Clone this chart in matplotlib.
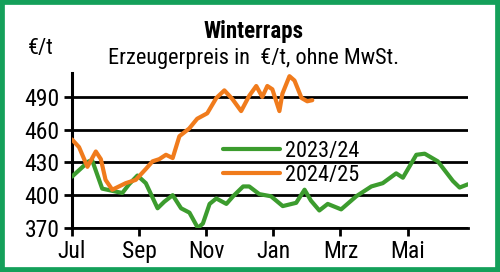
import matplotlib
matplotlib.use('Agg')
import matplotlib.pyplot as plt
from matplotlib.patches import Rectangle

plt.rcParams['font.family'] = ['Liberation Sans Narrow', 'Roboto Condensed',
                               'Liberation Sans', 'DejaVu Sans']

# Monate ab Juli (0 = Jul, 2 = Sep, ...)
month_labels = ['Jul', 'Sep', 'Nov', 'Jan', 'Mrz', 'Mai']
month_pos = [0, 2, 4, 6, 8, 10]

# 2023/24
x_2324 = [0, 0.5, 0.6, 0.9, 1.2, 1.5, 1.7, 1.95, 2.2, 2.55, 2.75, 3.0, 3.25, 3.5,
          3.75, 3.9, 4.1, 4.3, 4.6, 4.8, 5.1, 5.28, 5.58, 5.93, 6.28, 6.68, 6.93,
          7.12, 7.37, 7.62, 8.02, 8.47, 8.92, 9.26, 9.66, 9.86, 10.26, 10.51, 10.9,
          11.35, 11.55, 11.8]
y_2324 = [417, 431, 432, 406, 404, 402, 410, 418, 411, 388, 394, 400, 388, 384,
          370, 374, 392, 397, 392, 399, 408, 408, 401, 399, 390, 393, 405,
          395, 386, 392, 387, 399, 408, 411, 420, 416, 437, 438, 431,
          413, 407, 410]

# 2024/25
x_2425 = [0, 0.21, 0.46, 0.71, 0.86, 1.0, 1.2, 1.6, 1.9, 2.2, 2.4, 2.6, 2.8, 3.0,
          3.2, 3.49, 3.73, 4.03, 4.3, 4.54, 4.78, 5.04, 5.28, 5.49, 5.67, 5.82,
          5.97, 6.18, 6.27, 6.48, 6.63, 6.84, 7.01, 7.16]
y_2425 = [451, 444, 426, 440, 433, 414, 405, 411, 414, 424, 431, 433, 437, 434,
          454, 461, 470, 475, 489, 496, 488, 477, 491, 500, 490, 500,
          497, 477, 493, 509, 505, 489, 486, 487]

green = '#3c9c2e'
orange = '#f07b1c'

fig = plt.figure(figsize=(5, 2.72), dpi=100)
ax = fig.add_axes([0.144, 0.162, 0.792, 0.57])

ax.plot(x_2324, y_2324, color=green, lw=3, solid_joinstyle='round',
        solid_capstyle='round', label='2023/24', zorder=3)
ax.plot(x_2425, y_2425, color=orange, lw=3, solid_joinstyle='round',
        solid_capstyle='round', label='2024/25', zorder=3)

ax.set_xlim(0, 11.8)
ax.set_ylim(370, 512)
ax.set_yticks([370, 400, 430, 460, 490])
ax.set_xticks(month_pos)
ax.set_xticklabels(month_labels)
ax.yaxis.grid(True, color='black', lw=2)
ax.set_axisbelow(True)

for s in ['top', 'right']:
    ax.spines[s].set_visible(False)
ax.spines['left'].set_linewidth(2.2)
ax.spines['bottom'].set_linewidth(2)
ax.tick_params(axis='both', length=6, width=2, labelsize=17, pad=3)

leg = ax.legend(loc='center left', bbox_to_anchor=(0.33, 0.415), frameon=False,
                fontsize=16, handlelength=2.6, handletextpad=0.2, labelspacing=0.15)

fig.text(0.508, 0.885, 'Winterraps', ha='center', va='center', fontsize=16.5,
         fontweight='bold')
fig.text(0.506, 0.785, 'Erzeugerpreis in  €/t, ohne MwSt.', ha='center',
         va='center', fontsize=16)
fig.text(0.082, 0.82, '€/t', ha='center', va='center', fontsize=16)

fig.patches.append(Rectangle((0, 0), 1, 1, transform=fig.transFigure, fill=False,
                             edgecolor='#14a05a', lw=7))

fig.savefig('out.png', dpi=100)
